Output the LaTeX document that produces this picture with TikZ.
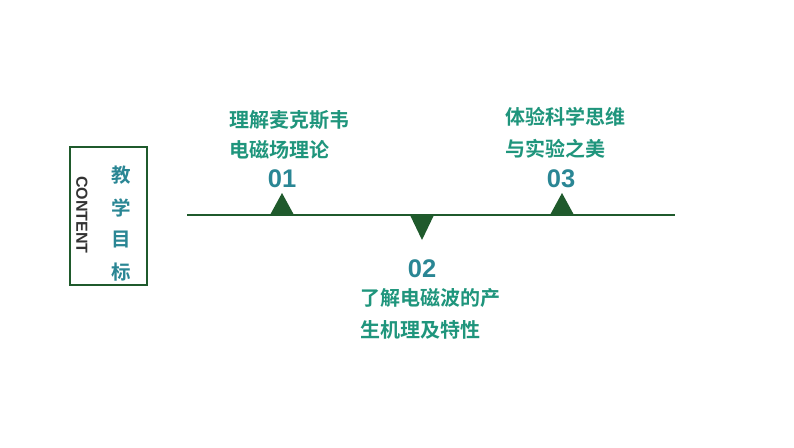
\documentclass[tikz,border=0pt]{standalone}
\usepackage{fontspec}
\usepackage{xcolor}
\setmainfont{Liberation Sans}
\newfontfamily\cjk{Noto Sans CJK SC}[BoldFont={Noto Sans CJK SC Bold}]
\definecolor{boxgreen}{HTML}{1F5A2C}
\definecolor{textgreen}{HTML}{1F957C}
\definecolor{numteal}{HTML}{2A8694}

\tikzset{
  goal/.style={anchor=west,inner sep=0pt,text=textgreen,font=\cjk\bfseries\fontsize{20}{20}\selectfont},
  num/.style={inner sep=0pt,text=numteal,font=\bfseries\fontsize{25.5}{25.5}\selectfont},
  title/.style={inner sep=0pt,text=numteal,font=\cjk\bfseries\fontsize{19.5}{19.5}\selectfont},
  marker/.style={fill=boxgreen}
}

\begin{document}
\begin{tikzpicture}[x=1pt,y=-1pt]
    \useasboundingbox (0,0) rectangle (794,447);
    % left box
    \node[draw=boxgreen,line width=1.2pt,minimum width=77pt,minimum height=138pt,inner sep=0pt] (box) at (108.5,216) {};
    \node[inner sep=0pt,rotate=-90,text=black!80,font=\bfseries\fontsize{16}{16}\selectfont] (content) at (82,215) {CONTENT};
    \node[title] (t1) at (121,175) {教};
    \node[title] (t2) at (121,207.5) {学};
    \node[title] (t3) at (121,240) {目};
    \node[title] (t4) at (121,272) {标};
    % timeline
    \coordinate (lineL) at (187,215);
    \coordinate (lineR) at (675,215);
    \draw[boxgreen,line width=1.3pt] (lineL) -- (lineR);
    \fill[marker] (270,215) -- (282,193) -- (294,215) -- cycle;
    \fill[marker] (410,215) -- (422,240) -- (434,215) -- cycle;
    \fill[marker] (550,215) -- (562,193) -- (574,215) -- cycle;
    % items
    \node[num] (n1) at (282,179) {01};
    \node[goal] (a1) at (229,120) {理解麦克斯韦};
    \node[goal] (a2) at (229,150) {电磁场理论};
    \node[num] (n2) at (422,269) {02};
    \node[goal] (b1) at (360,298) {了解电磁波的产};
    \node[goal] (b2) at (360,330) {生机理及特性};
    \node[num] (n3) at (561,179) {03};
    \node[goal] (c1) at (505,117) {体验科学思维};
    \node[goal] (c2) at (505,149) {与实验之美};
\end{tikzpicture}
\end{document}
